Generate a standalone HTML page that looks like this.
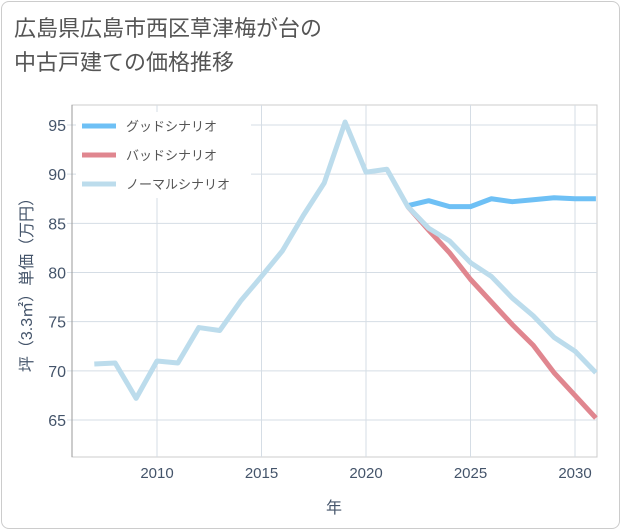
<!DOCTYPE html>
<html><head><meta charset="utf-8"><style>
body{margin:0;background:#fff;}
#wrap{position:relative;width:621px;height:530px;font-family:"Liberation Sans","Noto Sans CJK JP",sans-serif;}
#frame{position:absolute;left:1px;top:1px;width:617px;height:526px;border:1px solid #ccc;border-radius:8px;}
#title{position:absolute;left:14px;top:12px;font-size:22px;line-height:34px;color:#555;}
</style></head><body>
<div id="wrap">
<div id="frame"></div>
<div id="title">広島県広島市西区草津梅が台の<br>中古戸建ての価格推移</div>
<svg id="svg" width="621" height="530" style="position:absolute;left:0;top:0"></svg>
</div>
<script>
const years=[2007,2008,2009,2010,2011,2012,2013,2014,2015,2016,2017,2018,2019,2020,2021,2022,2023,2024,2025,2026,2027,2028,2029,2030,2031];
const normalVals=[70.7,70.8,67.2,71.0,70.8,74.4,74.1,77.1,79.6,82.2,85.8,89.1,95.3,90.2,90.5,86.7,84.5,83.2,81.0,79.6,77.4,75.6,73.4,72.0,69.8];
const scenYears=[2022,2023,2024,2025,2026,2027,2028,2029,2030,2031];
const goodVals=[86.8,87.3,86.7,86.7,87.5,87.2,87.4,87.6,87.5,87.5];
const badVals=[86.7,84.3,82.0,79.3,77.0,74.7,72.6,69.8,67.5,65.2];
const xTicks=[2010,2015,2020,2025,2030];
const yTicks=[65,70,75,80,85,90,95];
const NS="http://www.w3.org/2000/svg";
const svg=document.getElementById('svg');
const L=72,R=597,T=105,B=457;
const TXT='#44546a';
const x=v=>157+(v-2010)*20.9;
const y=v=>125+(95-v)*9.833;
function mk(t,a){const e=document.createElementNS(NS,t);for(const k in a)e.setAttribute(k,a[k]);svg.appendChild(e);return e;}
const bg=mk('rect',{x:L,y:T,width:R-L,height:B-T,fill:'#fff',stroke:'#ccc'});


xTicks.forEach(v=>{
 const g=mk('line',{x1:x(v),x2:x(v),y1:T,y2:B,stroke:'#d5dde5'});
 
 
 const t=mk('text',{x:x(v),y:478,'text-anchor':'middle','font-size':15,fill:TXT});
 t.textContent=v;
 
 
});
yTicks.forEach(v=>{
 const g=mk('line',{x1:L-5,x2:R,y1:y(v),y2:y(v),stroke:'#d5dde5'});
 
 
 const t=mk('text',{x:66,y:y(v)+6,'text-anchor':'end','font-size':16,fill:TXT});
 t.textContent=v;
 
 
});
const ax=mk('line',{x1:L,x2:L,y1:T,y2:B,stroke:'#999'});


const lb=mk('rect',{x:76,y:112,width:175,height:86,fill:'#fff'});


function line(xs,vs,col,name){
 const p=mk('polyline',{points:xs.map((yr,i)=>x(yr)+','+y(vs[i])).join(' '),fill:'none',stroke:col,'stroke-width':5,'stroke-linejoin':'round'});
 
 
}
line(scenYears,goodVals,'#6ec0f5','good-scenario-line');
line(scenYears,badVals,'#e0868f','bad-scenario-line');
line(years,normalVals,'#bcdcec','normal-scenario-line');
const leg=[['グッドシナリオ','#6ec0f5'],['バッドシナリオ','#e0868f'],['ノーマルシナリオ','#bcdcec']];
leg.forEach((l,i)=>{
 const yy=126+i*29;
 const s=mk('line',{x1:82,x2:116,y1:yy,y2:yy,stroke:l[1],'stroke-width':5});
 
 
 const t=mk('text',{x:126,y:yy+5,'font-size':13,fill:'#555'});
 t.textContent=l[0];
 
 
});
const xt=mk('text',{x:334,y:513,'text-anchor':'middle','font-size':16,fill:TXT});
xt.textContent='年';


const yt=mk('text',{x:0,y:0,'text-anchor':'middle','font-size':16,fill:TXT,transform:'translate(32,281) rotate(-90)'});
yt.textContent='坪（3.3㎡）単価（万円）';


</script>
</body></html>
